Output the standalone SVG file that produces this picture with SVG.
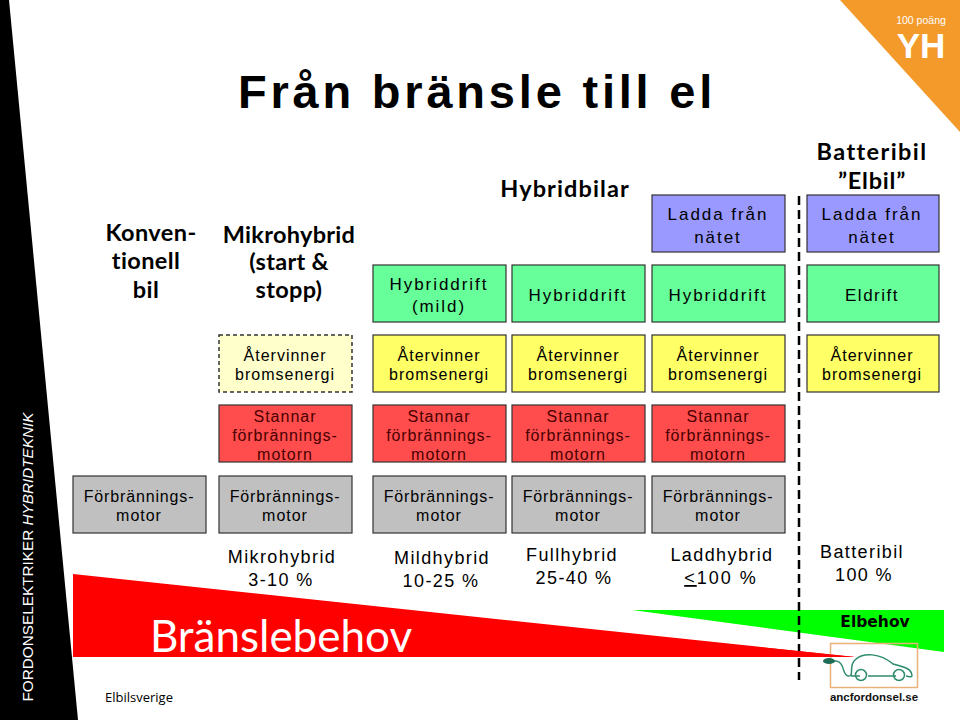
<svg xmlns="http://www.w3.org/2000/svg" width="960" height="720" viewBox="0 0 960 720">
<style>
text{font-family:"Liberation Sans",Arial,sans-serif;text-anchor:middle;fill:#000}
.box{stroke:#333;stroke-width:1.2}
.t{font-size:17px;letter-spacing:1.95px}
.u{font-size:16px;letter-spacing:1px}
.f{font-size:16px;letter-spacing:.85px}
.r{fill:#ff4d4d}.g{fill:#c0c0c0}.y{fill:#ffff66}.m{fill:#66ff99}.b{fill:#9999ff}
.rt{fill:#4a0000}
.cv{font-family:"Lato",sans-serif;font-weight:bold;font-size:23.5px}
.p{font-size:18px;letter-spacing:1.4px}
</style>
<rect width="960" height="720" fill="#fff"/>
<g id="bands">
<polygon points="0,0 9,0 78,720 0,720" fill="#000"/>
<polygon points="840,0 960,0 960,132" fill="#f39a2b"/>
<polygon points="73,574 855,657 73,657" fill="#ff0000"/>
<polygon points="632,610 944,610 944,652" fill="#00ff00"/>
</g>
<text transform="rotate(-90 33 557)" x="33" y="557" style="fill:#fff;font-size:15.3px">FORDONSELEKTRIKER <tspan font-style="italic">HYBRIDTEKNIK</tspan></text>
<text x="477" y="108" style="font-size:47px;font-weight:bold;letter-spacing:3.8px">Från bränsle till el</text>
<g id="badge">
<text x="921" y="24" style="fill:#fff;font-size:10.5px">100 poäng</text>
<text x="921" y="58" style="fill:#fff;font-size:35px;font-weight:bold">YH</text>
</g>
<g id="connectors">
<line x1="799" y1="196" x2="799" y2="680" stroke="#000" stroke-width="2.5" stroke-dasharray="9 5"/>
</g>
<g id="headers">
<text class="cv" x="151" y="241" style="letter-spacing:.4px">Konven-</text>
<text class="cv" x="146" y="269" style="letter-spacing:.4px">tionell</text>
<text class="cv" x="146" y="298" style="letter-spacing:.4px">bil</text>
<text class="cv" x="289" y="243" style="letter-spacing:.3px">Mikrohybrid</text>
<text class="cv" x="289" y="270" style="letter-spacing:.3px">(start &amp;</text>
<text class="cv" x="289" y="298" style="letter-spacing:.3px">stopp)</text>
<text class="cv" x="565" y="197" style="letter-spacing:1.1px">Hybridbilar</text>
<text class="cv" x="872" y="160" style="letter-spacing:1.4px">Batteribil</text>
<text class="cv" x="872" y="189" style="letter-spacing:.8px">”Elbil”</text>
</g>
<g id="n-hybriddrift-mild"><rect class="box m" x="373" y="265" width="133" height="57"/><text class="t" x="439" y="290">Hybriddrift</text><text class="t" x="439" y="312">(mild)</text></g>
<g id="n-hybriddrift-2"><rect class="box m" x="512" y="265" width="133" height="57"/><text class="t" x="578" y="301">Hybriddrift</text></g>
<g id="n-hybriddrift-3"><rect class="box m" x="652" y="265" width="133" height="57"/><text class="t" x="718" y="301">Hybriddrift</text></g>
<g id="n-eldrift"><rect class="box m" x="807" y="265" width="132" height="57"/><text class="t" x="872" y="301" style="letter-spacing:1.5px">Eldrift</text></g>
<g id="n-ladda-1"><rect class="box b" x="652" y="195" width="133" height="57"/><text class="t" x="718" y="220">Ladda från</text><text class="t" x="718" y="243">nätet</text></g>
<g id="n-ladda-2"><rect class="box b" x="807" y="195" width="132" height="57"/><text class="t" x="872" y="220">Ladda från</text><text class="t" x="872" y="243">nätet</text></g>
<g id="n-atervinner-0"><rect x="219" y="335" width="133" height="57" fill="#ffffcc" stroke="#333" stroke-width="1.5" stroke-dasharray="4 3"/><text class="u" x="285" y="361">Återvinner</text><text class="u" x="285" y="380">bromsenergi</text></g>
<g id="n-atervinner-1"><rect class="box y" x="373" y="335" width="133" height="57"/><text class="u" x="439" y="361">Återvinner</text><text class="u" x="439" y="380">bromsenergi</text></g>
<g id="n-atervinner-2"><rect class="box y" x="512" y="335" width="133" height="57"/><text class="u" x="578" y="361">Återvinner</text><text class="u" x="578" y="380">bromsenergi</text></g>
<g id="n-atervinner-3"><rect class="box y" x="652" y="335" width="133" height="57"/><text class="u" x="718" y="361">Återvinner</text><text class="u" x="718" y="380">bromsenergi</text></g>
<g id="n-atervinner-4"><rect class="box y" x="807" y="335" width="132" height="57"/><text class="u" x="872" y="361">Återvinner</text><text class="u" x="872" y="380">bromsenergi</text></g>
<g id="n-stannar-0"><rect class="box r" x="219" y="405" width="133" height="57"/><text class="u rt" x="285" y="422">Stannar</text><text class="f rt" x="285" y="441">förbrännings-</text><text class="u rt" x="285" y="460">motorn</text></g>
<g id="n-stannar-1"><rect class="box r" x="373" y="405" width="133" height="57"/><text class="u rt" x="439" y="422">Stannar</text><text class="f rt" x="439" y="441">förbrännings-</text><text class="u rt" x="439" y="460">motorn</text></g>
<g id="n-stannar-2"><rect class="box r" x="512" y="405" width="133" height="57"/><text class="u rt" x="578" y="422">Stannar</text><text class="f rt" x="578" y="441">förbrännings-</text><text class="u rt" x="578" y="460">motorn</text></g>
<g id="n-stannar-3"><rect class="box r" x="652" y="405" width="133" height="57"/><text class="u rt" x="718" y="422">Stannar</text><text class="f rt" x="718" y="441">förbrännings-</text><text class="u rt" x="718" y="460">motorn</text></g>
<g id="n-motor-k"><rect class="box g" x="73" y="476" width="133" height="57"/><text class="f" x="139" y="502">Förbrännings-</text><text class="u" x="139" y="521">motor</text></g>
<g id="n-motor-0"><rect class="box g" x="219" y="476" width="133" height="57"/><text class="f" x="285" y="502">Förbrännings-</text><text class="u" x="285" y="521">motor</text></g>
<g id="n-motor-1"><rect class="box g" x="373" y="476" width="133" height="57"/><text class="f" x="439" y="502">Förbrännings-</text><text class="u" x="439" y="521">motor</text></g>
<g id="n-motor-2"><rect class="box g" x="512" y="476" width="133" height="57"/><text class="f" x="578" y="502">Förbrännings-</text><text class="u" x="578" y="521">motor</text></g>
<g id="n-motor-3"><rect class="box g" x="652" y="476" width="133" height="57"/><text class="f" x="718" y="502">Förbrännings-</text><text class="u" x="718" y="521">motor</text></g>
<g id="percent">
<text class="p" x="282" y="563">Mikrohybrid</text><text class="p" x="281" y="586">3-10 %</text>
<text class="p" x="442" y="564">Mildhybrid</text><text class="p" x="441" y="587">10-25 %</text>
<text class="p" x="572" y="561">Fullhybrid</text><text class="p" x="574" y="584">25-40 %</text>
<text class="p" x="722" y="561">Laddhybrid</text><text class="p" x="721" y="584" style="letter-spacing:2px"><tspan text-decoration="underline">&lt;</tspan>100 %</text>
<text class="p" x="862" y="558">Batteribil</text><text class="p" x="864" y="581">100 %</text>
</g>
<text x="281" y="652" style="fill:#fff;font-size:44px;font-family:'Lato',sans-serif">Bränslebehov</text>
<text x="875" y="627" style="font-size:15.5px;font-weight:bold;font-family:'DejaVu Sans',sans-serif">Elbehov</text>
<text x="139" y="702" style="font-size:13px;font-family:'Open Sans',sans-serif">Elbilsverige</text>
<g id="logo">
<rect x="830.500" y="643.500" width="87" height="44" fill="none" stroke="#e8b27a" stroke-width="1.500"/>
<path d="M826 661 H836 C845 662 842 675 848 676 C855 677 848 666 855 660 C863 652 880 653 893 664 C905 667 912 669 912 676 C911 678 908 676 906 676 M896 676 H868 M860 676 H851" fill="none" stroke="#2e8b6e" stroke-width="1.500"/>
<circle cx="861" cy="675" r="5.500" fill="none" stroke="#2e8b6e" stroke-width="1.500"/>
<circle cx="899" cy="675" r="5.500" fill="none" stroke="#2e8b6e" stroke-width="1.500"/>
<ellipse cx="829" cy="661" rx="6" ry="3" fill="#1f6b55"/>
<polygon points="760,647 855,657 760,657" fill="#ff0000"/>
<text x="874" y="701" style="font-size:11.500px;font-weight:bold;fill:#111">ancfordonsel.se</text>
</g>
</svg>
